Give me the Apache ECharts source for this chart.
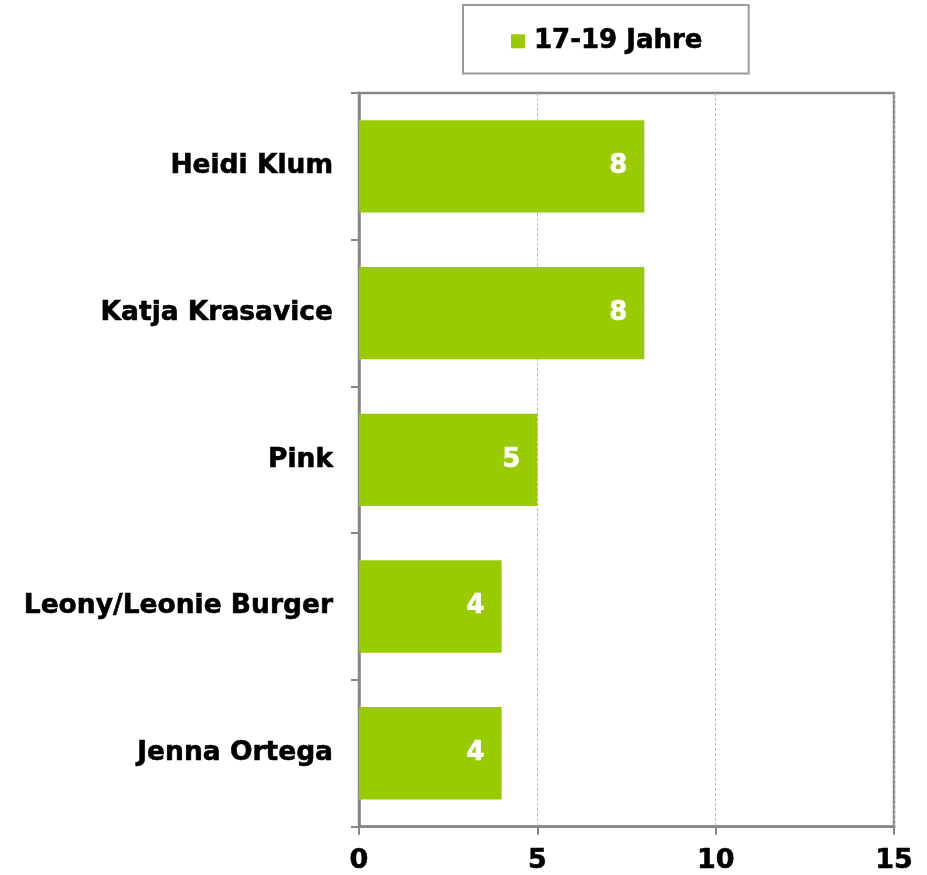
<!DOCTYPE html>
<html>
<head>
<meta charset="utf-8">
<script src="https://cdn.jsdelivr.net/npm/echarts@6/dist/echarts.min.js"></script>
<style>
  html, body { margin: 0; padding: 0; background: #fff; }
  #chart { width: 927px; height: 875px; }
</style>
</head>
<body>
<div id="chart"></div>
<script>
// Names shown on the category axis, top to bottom
const names = ['Heidi Klum', 'Katja Krasavice', 'Pink', 'Leony/Leonie Burger', 'Jenna Ortega'];
// Counts for the 17-19 age group
const values = [8, 8, 5, 4, 4];
const seriesName = '17-19 Jahre';
const xTicks = [0, 5, 10, 15];

const FONT = '"DejaVu Sans", Verdana, sans-serif';
const GREEN = '#99cc00';
const AXIS_GREY = '#868686';

const chart = echarts.init(document.getElementById('chart'), null, { renderer: 'canvas' });

chart.setOption({
  backgroundColor: '#ffffff',
  animation: false,
  textStyle: { fontFamily: FONT },
  legend: {
    data: [seriesName],
    top: 5,
    left: 463,
    padding: [23, 46, 19, 48],
    borderColor: '#9a9a9a',
    borderWidth: 2,
    itemWidth: 14,
    itemHeight: 14,
    icon: 'rect',
    textStyle: {
      fontFamily: FONT, fontWeight: 'bold', fontSize: 26, color: '#000',
      textBorderColor: '#000', textBorderWidth: 0.6, padding: [0, 0, 0, 4]
    }
  },
  grid: {
    left: 359,
    right: 33,
    top: 93,
    bottom: 47,
    show: true,
    borderColor: AXIS_GREY,
    borderWidth: 2.5,
    containLabel: false
  },
  xAxis: {
    type: 'value',
    min: xTicks[0],
    max: xTicks[xTicks.length - 1],
    interval: 5,
    axisLine: { show: true, lineStyle: { color: AXIS_GREY, width: 2.5 } },
    axisTick: { show: true, length: 8, lineStyle: { color: AXIS_GREY, width: 2 } },
    axisLabel: {
      color: '#000', fontFamily: FONT, fontWeight: 'bold', fontSize: 27, margin: 21,
      textBorderColor: '#000', textBorderWidth: 0.6
    },
    splitLine: { show: true, lineStyle: { color: '#b8b8b8', type: [3, 2], width: 1 } }
  },
  yAxis: {
    type: 'category',
    data: names,
    inverse: true,
    axisLine: { show: true, lineStyle: { color: AXIS_GREY, width: 2.5 } },
    axisTick: { show: true, length: 8, lineStyle: { color: AXIS_GREY, width: 2 } },
    axisLabel: {
      color: '#000', fontFamily: FONT, fontWeight: 'bold', fontSize: 26.5, margin: 26,
      textBorderColor: '#000', textBorderWidth: 0.6
    },
    splitLine: { show: false }
  },
  series: [{
    name: seriesName,
    type: 'bar',
    data: values,
    barCategoryGap: '37%',
    itemStyle: { color: GREEN },
    label: {
      show: true,
      position: 'insideRight',
      distance: 17,
      color: '#fff',
      fontFamily: FONT,
      fontWeight: 'bold',
      fontSize: 26,
      textBorderColor: '#fff',
      textBorderWidth: 0.6
    }
  }]
});
</script>
</body>
</html>
